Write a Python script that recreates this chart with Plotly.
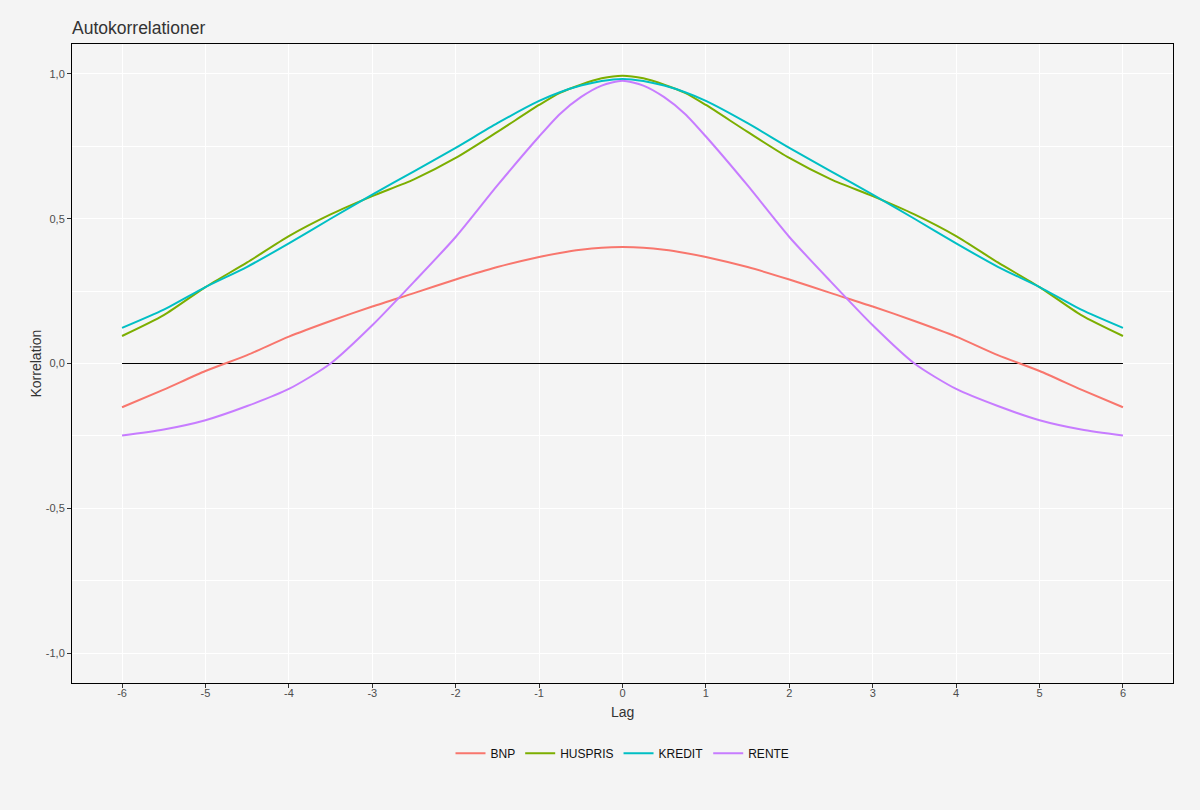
import plotly.graph_objects as go

lags_half = [-6, -5.5, -5, -4.5, -4, -3.5, -3, -2.5, -2, -1.5, -1, -0.75, -0.5, -0.25, 0]
bnp_half = [-0.151, -0.090, -0.026, 0.029, 0.093, 0.147, 0.197, 0.243, 0.290, 0.333, 0.368, 0.382, 0.393, 0.400, 0.402]
huspris_half = [0.095, 0.167, 0.264, 0.349, 0.440, 0.515, 0.578, 0.636, 0.710, 0.800, 0.893, 0.935, 0.963, 0.985, 0.994]
kredit_half = [0.123, 0.186, 0.264, 0.334, 0.415, 0.500, 0.583, 0.664, 0.745, 0.830, 0.907, 0.937, 0.960, 0.976, 0.983]
rente_half = [-0.249, -0.228, -0.196, -0.147, -0.088, 0.000, 0.132, 0.282, 0.437, 0.615, 0.784, 0.862, 0.920, 0.960, 0.977]

# autocorrelations are symmetric around lag 0
lags = lags_half + [-v for v in lags_half[-2::-1]]
bnp = bnp_half + bnp_half[-2::-1]
huspris = huspris_half + huspris_half[-2::-1]
kredit = kredit_half + kredit_half[-2::-1]
rente = rente_half + rente_half[-2::-1]

series = [("BNP", bnp, "#F8766D"), ("HUSPRIS", huspris, "#7CAE00"),
          ("KREDIT", kredit, "#00BFC4"), ("RENTE", rente, "#C77CFF")]

x_ticks = [-6, -5, -4, -3, -2, -1, 0, 1, 2, 3, 4, 5, 6]
x_ticktext = ["-6", "-5", "-4", "-3", "-2", "-1", "0", "1", "2", "3", "4", "5", "6"]
y_ticks = [-1.0, -0.5, 0.0, 0.5, 1.0]
y_ticktext = ["-1,0", "-0,5", "0,0", "0,5", "1,0"]
y_minor = [-0.75, -0.25, 0.25, 0.75]

fig = go.Figure()
fig.add_trace(go.Scatter(x=[x_ticks[0], x_ticks[-1]], y=[0, 0], mode="lines",
                         line=dict(color="black", width=1), showlegend=False,
                         hoverinfo="skip"))
for name, vals, col in series:
    fig.add_trace(go.Scatter(x=lags, y=vals, mode="lines", name=name,
                             line=dict(color=col, width=2, shape="spline", smoothing=0.7)))

bg = "#f4f4f4"
fig.update_layout(
    width=1200, height=810,
    paper_bgcolor=bg, plot_bgcolor=bg,
    margin=dict(l=72, r=27, t=44, b=127),
    font=dict(family="Liberation Sans, Arial, sans-serif", color="#4d4d4d"),
    title=dict(text="Autokorrelationer", x=0, xref="paper", xanchor="left",
               y=1 - 28 / 810, yanchor="middle",
               font=dict(size=17.5, color="#333333")),
    showlegend=True,
    legend=dict(orientation="h", x=0.5, xanchor="center", y=-0.11, yanchor="middle",
                font=dict(size=12, color="#111111"), bgcolor="rgba(0,0,0,0)"),
)
fig.update_xaxes(range=[-6.6, 6.6], tickvals=x_ticks, ticktext=x_ticktext,
                 showgrid=True, gridcolor="white", gridwidth=1, zeroline=False,
                 showline=True, mirror=True, linecolor="black", linewidth=1,
                 ticks="outside", ticklen=4, tickcolor="#333333",
                 ticklabelstandoff=-4,
                 tickfont=dict(size=11, color="#4d4d4d"))
fig.update_yaxes(range=[-1.1036, 1.1036], tickvals=y_ticks, ticktext=y_ticktext,
                 showgrid=True, gridcolor="white", gridwidth=1, zeroline=False,
                 showline=True, mirror=True, linecolor="black", linewidth=1,
                 ticks="outside", ticklen=4, tickcolor="#333333",
                 tickfont=dict(size=11, color="#4d4d4d"),
                 minor=dict(tickvals=y_minor, showgrid=True, gridcolor="white",
                            gridwidth=1, ticks=""))
fig.add_annotation(text="Lag", x=0.5, y=-0.045, xref="paper", yref="paper",
                   showarrow=False, yanchor="middle", font=dict(size=14, color="#333333"))
fig.add_annotation(text="Korrelation", x=(35 - 72) / 1101, y=0.5, xref="paper", yref="paper",
                   showarrow=False, textangle=-90, xanchor="center",
                   font=dict(size=14, color="#333333"))
fig.write_html("out.html", config={"displayModeBar": False},
               post_script="document.body.style.margin='0';document.body.style.background='#f4f4f4';")
